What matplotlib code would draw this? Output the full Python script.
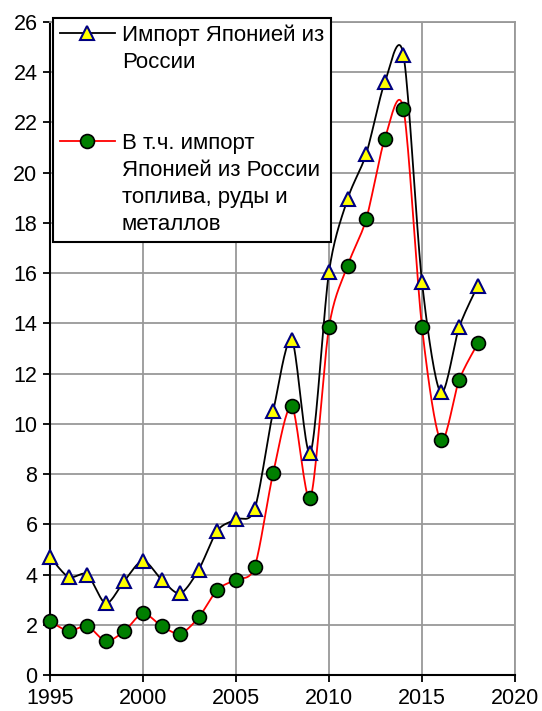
import matplotlib
matplotlib.use("Agg")
import matplotlib.pyplot as plt
import numpy as np
from matplotlib.lines import Line2D

plt.rcParams["font.family"] = ["Liberation Sans", "DejaVu Sans"]

years = list(range(1995, 2019))
total = [4.7, 3.9, 4.0, 2.85, 3.75, 4.55, 3.8, 3.25, 4.2, 5.75, 6.2, 6.6,
         10.5, 13.35, 8.85, 16.05, 18.95, 20.75, 23.6, 24.7, 15.65, 11.25, 13.85, 15.5]
fuel = [2.15, 1.75, 1.95, 1.35, 1.75, 2.45, 1.95, 1.65, 2.3, 3.4, 3.8, 4.3,
        8.05, 10.7, 7.05, 13.85, 16.3, 18.15, 21.35, 22.55, 13.85, 9.35, 11.75, 13.2]

label_total = ["Импорт Японией из", "России"]
label_fuel = ["В т.ч. импорт", "Японией из России", "топлива, руды и", "металлов"]


def smooth(x, y, n=20, k=7.0):
    # Bezier smoothing like a spreadsheet "smoothed line"
    x = np.asarray(x, float)
    y = np.asarray(y, float)
    p = np.column_stack([x, y])
    pts = [p[0]]
    for i in range(len(p) - 1):
        p0 = p[i - 1] if i > 0 else p[i]
        p3 = p[i + 2] if i + 2 < len(p) else p[i + 1]
        p1, p2 = p[i], p[i + 1]
        c1 = p1 + (p2 - p0) / k
        c2 = p2 - (p3 - p1) / k
        t = np.linspace(0, 1, n)[1:, None]
        seg = ((1 - t) ** 3) * p1 + 3 * ((1 - t) ** 2) * t * c1 + 3 * (1 - t) * t ** 2 * c2 + t ** 3 * p2
        pts.extend(seg)
    pts = np.array(pts)
    return pts[:, 0], pts[:, 1]


tri = dict(marker="^", ms=10, mfc="yellow", mec="#000080", mew=1.5)
dot = dict(marker="o", ms=10, mfc="#007f00", mec="black", mew=1.2)

fig = plt.figure(figsize=(5.42, 7.11), dpi=100)
ax = fig.add_axes([50 / 542, 36 / 711, 465 / 542, 653 / 711])

sx, sy = smooth(years, total)
ax.plot(sx, sy, color="black", lw=1.3, zorder=3)
sx, sy = smooth(years, fuel)
ax.plot(sx, sy, color="red", lw=1.3, zorder=3)
ax.plot(years, total, ls="none", zorder=4, clip_on=False, **tri)
ax.plot(years, fuel, ls="none", zorder=4, clip_on=False, **dot)

ax.set_xlim(1995, 2020)
ax.set_ylim(0, 26)
ax.set_xticks(range(1995, 2021, 5))
ax.set_yticks(range(0, 27, 2))
ax.grid(True, color="#999999", lw=1.3)
ax.set_axisbelow(True)
ax.tick_params(labelsize=15.5, length=5, width=1.3, direction="out", color="black", pad=4)
for side in ("left", "bottom"):
    ax.spines[side].set_color("black")
    ax.spines[side].set_linewidth(1.5)
for side in ("top", "right"):
    ax.spines[side].set_color("#999999")
    ax.spines[side].set_linewidth(1.3)

# legend: one row per text line, handle only on the first line of each entry
blank = Line2D([], [], lw=0, alpha=0)
handles = [Line2D([], [], color="black", lw=1.3, **tri), blank, blank, blank,
           Line2D([], [], color="red", lw=1.3, **dot), blank, blank, blank]
labels = [label_total[0], label_total[1], "", "",
          label_fuel[0], label_fuel[1], label_fuel[2], label_fuel[3]]
leg = ax.legend(handles, labels, loc="upper left",
                bbox_to_anchor=(0.0065, 1.006), fontsize=16, frameon=True, fancybox=False,
                edgecolor="black", framealpha=1, handlelength=2.5, handletextpad=0.3,
                labelspacing=0.27, borderpad=0.3, borderaxespad=0)
leg.get_frame().set_linewidth(1.5)
leg.set_zorder(10)

fig.savefig("out.png", dpi=100)
